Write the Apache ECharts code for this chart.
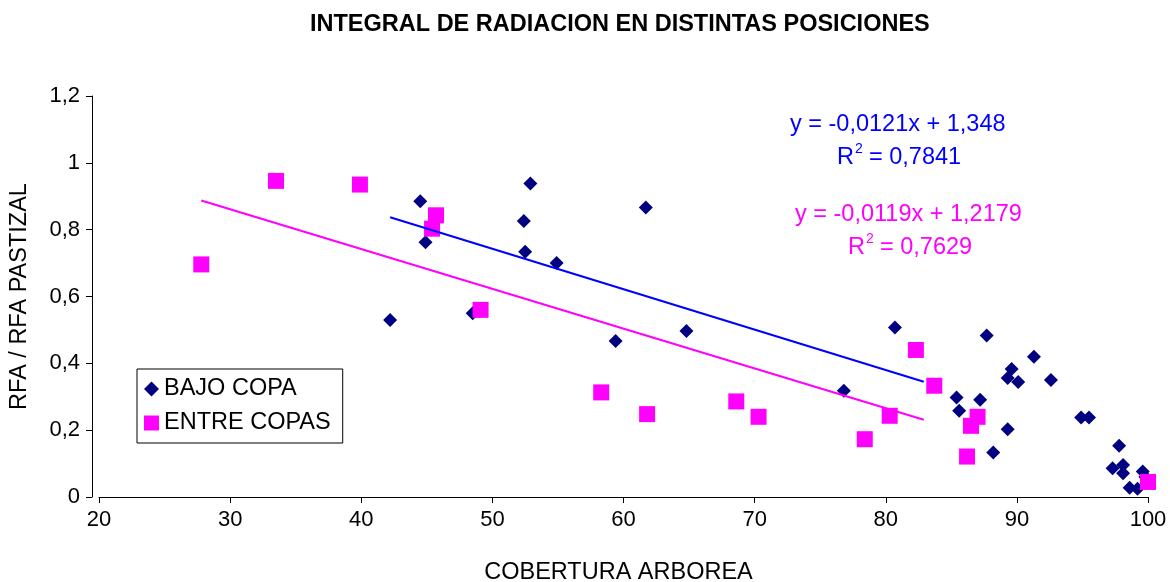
<!DOCTYPE html>
<html>
<head>
<meta charset="utf-8">
<script src="https://cdn.jsdelivr.net/npm/echarts@6/dist/echarts.min.js"></script>
<style>
  html, body { margin: 0; padding: 0; background: #fff; }
  #chart { width: 1170px; height: 582px; }
</style>
</head>
<body>
<div id="chart"></div>
<script>
// Cobertura arbórea (%) vs. RFA / RFA pastizal
const bajoCopaX = [42.2, 44.5, 44.9, 48.5, 52.4, 52.5, 52.9, 54.9, 59.4, 61.7, 64.8, 76.8, 80.7,
  85.4, 85.6, 87.2, 87.7, 88.2, 89.3, 89.3, 89.6, 90.1, 91.3, 92.6, 94.9, 95.5,
  97.3, 97.8, 98.1, 98.1, 98.6, 99.2, 99.6, 99.8];
const bajoCopaY = [0.53, 0.885, 0.762, 0.55, 0.826, 0.734, 0.938, 0.70, 0.467, 0.866, 0.497, 0.318, 0.507,
  0.298, 0.258, 0.291, 0.483, 0.133, 0.356, 0.203, 0.383, 0.344, 0.42, 0.35, 0.238, 0.238,
  0.086, 0.153, 0.096, 0.071, 0.028, 0.025, 0.076, 0.06];

const entreCopasX = [27.8, 33.5, 39.9, 45.4, 45.7, 49.1, 58.3, 61.8, 68.6, 70.3, 78.4, 80.3,
  82.3, 83.7, 86.2, 86.5, 87.0, 100];
const entreCopasY = [0.696, 0.946, 0.935, 0.803, 0.843, 0.56, 0.313, 0.248, 0.286, 0.24, 0.173, 0.243,
  0.44, 0.333, 0.121, 0.213, 0.24, 0.045];

// Linear trend lines (slope, intercept, R²) and where they end on the x axis
const bajoTrend = { slope: -0.0121, intercept: 1.348, r2: '0,7841', text: 'y = -0,0121x + 1,348' };
const entreTrend = { slope: -0.0119, intercept: 1.2179, r2: '0,7629', text: 'y = -0,0119x + 1,2179' };
const trendEndX = 82.9;

const xTicks = { min: 20, max: 100, interval: 10 };
const yTicks = { min: 0, max: 1.2, interval: 0.2 };

const FONT = 'Liberation Sans, Arial, sans-serif';
const NAVY = '#000080';
const MAGENTA = '#FF00FF';
const BLUE = '#0000FF';
const TEXT_SIZE = 23.5;

const zip = (xs, ys) => xs.map((x, i) => [x, ys[i]]);
const trendLine = (t, x0) => [[x0, t.slope * x0 + t.intercept], [trendEndX, t.slope * trendEndX + t.intercept]];
const comma = v => String(Math.round(v * 10) / 10).replace('.', ',');

const chart = echarts.init(document.getElementById('chart'), null, { renderer: 'canvas' });

const eqStyle = (color) => ({ fontFamily: FONT, fontSize: TEXT_SIZE, fill: color });
const supStyle = (color) => ({ fontFamily: FONT, fontSize: 14, fill: color });

chart.setOption({
  animation: false,
  backgroundColor: '#fff',
  title: {
    text: 'INTEGRAL DE RADIACION EN DISTINTAS POSICIONES',
    left: 305,
    top: 8,
    textStyle: { fontFamily: FONT, fontSize: 23.5, fontWeight: 'bold', color: '#000' }
  },
  grid: { left: 99, right: 22, top: 96, bottom: 85, outerBoundsMode: 'none', containLabel: false },
  legend: {
    data: ['BAJO COPA', 'ENTRE COPAS'],
    orient: 'vertical',
    left: 137,
    top: 369,
    padding: [8, 12, 8, 7],
    itemGap: 10,
    itemWidth: 15,
    itemHeight: 15,
    itemTextGap: 7,
    borderColor: '#000',
    borderWidth: 1,
    backgroundColor: '#fff',
    textStyle: { fontFamily: FONT, fontSize: TEXT_SIZE, color: '#000' }
  },
  xAxis: {
    type: 'value',
    min: xTicks.min, max: xTicks.max, interval: xTicks.interval,
    name: 'COBERTURA ARBOREA',
    nameLocation: 'middle',
    nameGap: 64,
    nameTextStyle: { fontFamily: FONT, fontSize: TEXT_SIZE, color: '#000', padding: [0, 10, 0, 0] },
    axisLine: { onZero: false, lineStyle: { color: '#000', width: 1 } },
    axisTick: { show: true, inside: false, length: 6, lineStyle: { color: '#000' } },
    axisLabel: { fontFamily: FONT, fontSize: 22, color: '#000', margin: 12 },
    splitLine: { show: false }
  },
  yAxis: {
    type: 'value',
    min: yTicks.min, max: yTicks.max, interval: yTicks.interval,
    offset: 7,
    name: 'RFA / RFA PASTIZAL',
    nameLocation: 'middle',
    nameGap: 60,
    nameTextStyle: { fontFamily: FONT, fontSize: TEXT_SIZE, color: '#000' },
    axisLine: { show: true, lineStyle: { color: '#000', width: 1 } },
    axisTick: { show: true, inside: false, length: 6, lineStyle: { color: '#000' } },
    axisLabel: { fontFamily: FONT, fontSize: 22, color: '#000', margin: 12, formatter: comma },
    splitLine: { show: false }
  },
  series: [
    {
      name: 'BAJO COPA',
      type: 'scatter',
      symbol: 'diamond',
      symbolSize: [14, 14],
      itemStyle: { color: NAVY, opacity: 1 },
      data: zip(bajoCopaX, bajoCopaY),
      z: 2
    },
    {
      name: 'ENTRE COPAS',
      type: 'scatter',
      symbol: 'rect',
      symbolSize: 16,
      itemStyle: { color: MAGENTA, opacity: 1 },
      data: zip(entreCopasX, entreCopasY),
      z: 2
    },
    {
      name: 'trend BAJO COPA',
      type: 'line',
      showSymbol: false,
      symbol: 'none',
      lineStyle: { color: BLUE, width: 2 },
      data: trendLine(bajoTrend, Math.min(...bajoCopaX)),
      z: 3
    },
    {
      name: 'trend ENTRE COPAS',
      type: 'line',
      showSymbol: false,
      symbol: 'none',
      lineStyle: { color: MAGENTA, width: 2 },
      data: trendLine(entreTrend, Math.min(...entreCopasX)),
      z: 3
    }
  ],
  graphic: [
    { type: 'text', left: 790, top: 113, style: Object.assign({ text: bajoTrend.text }, eqStyle(BLUE)) },
    { type: 'text', left: 837, top: 146, style: Object.assign({ text: 'R' }, eqStyle(BLUE)) },
    { type: 'text', left: 855, top: 142, style: Object.assign({ text: '2' }, supStyle(BLUE)) },
    { type: 'text', left: 869, top: 146, style: Object.assign({ text: '= ' + bajoTrend.r2 }, eqStyle(BLUE)) },
    { type: 'text', left: 795, top: 203, style: Object.assign({ text: entreTrend.text }, eqStyle(MAGENTA)) },
    { type: 'text', left: 848, top: 236, style: Object.assign({ text: 'R' }, eqStyle(MAGENTA)) },
    { type: 'text', left: 866, top: 232, style: Object.assign({ text: '2' }, supStyle(MAGENTA)) },
    { type: 'text', left: 880, top: 236, style: Object.assign({ text: '= ' + entreTrend.r2 }, eqStyle(MAGENTA)) }
  ]
});
</script>
</body>
</html>
